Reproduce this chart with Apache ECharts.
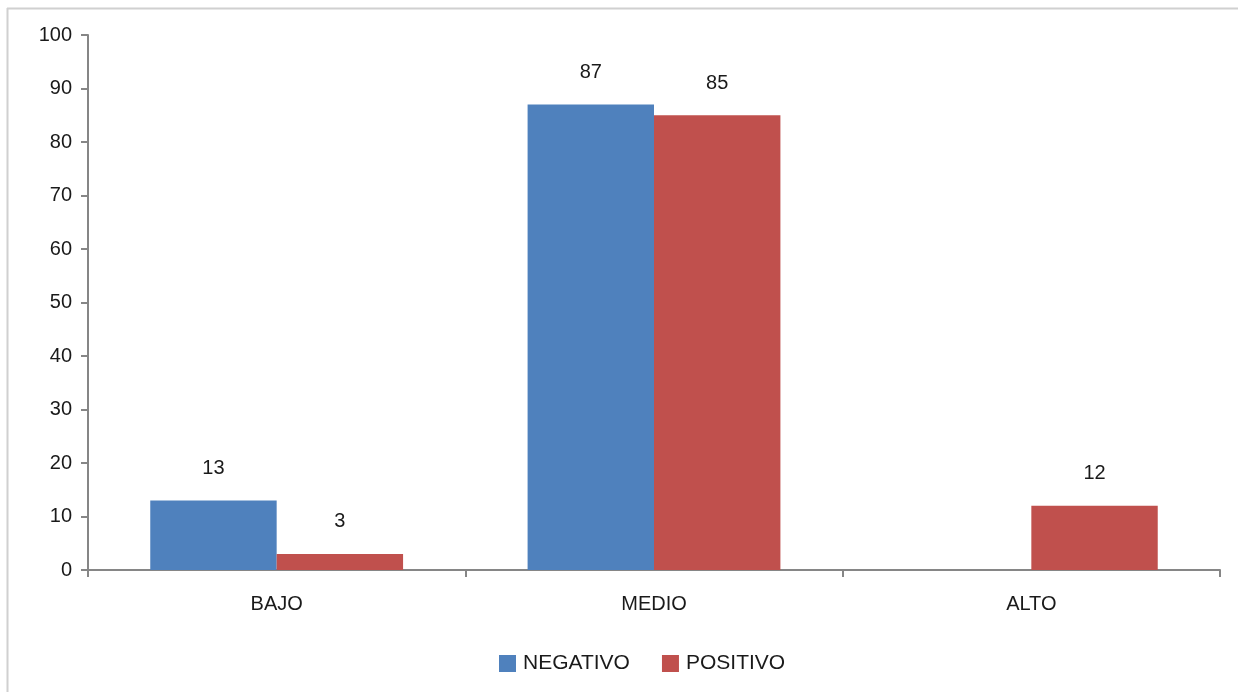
<!DOCTYPE html>
<html><head><meta charset="utf-8">
<script src="https://cdn.jsdelivr.net/npm/echarts@6/dist/echarts.min.js"></script>
<style>html,body{margin:0;padding:0;background:#fff}#c{width:1238px;height:692px}</style>
</head><body><div id="c"></div>
<script>
const categories = ['BAJO', 'MEDIO', 'ALTO'];
const negativo = [13, 87, 0];
const positivo = [3, 85, 12];
const yTicks = { min: 0, max: 100, interval: 10 };

const chart = echarts.init(document.getElementById('c'));
const axisColor = '#868686';
const font = 'Liberation Sans, Arial, sans-serif';
const lbl = {
  show: true, position: 'top', distance: 22, color: '#1a1a1a', fontSize: 20, fontFamily: font,
  formatter: p => p.value === 0 ? '' : p.value
};
chart.setOption({
  animation: false,
  backgroundColor: '#fff',
  graphic: [
    { type: 'line', shape: { x1: 7.5, y1: 8, x2: 7.5, y2: 692 }, style: { stroke: '#d0d0d0', lineWidth: 2 } },
    { type: 'line', shape: { x1: 7, y1: 8.5, x2: 1238, y2: 8.5 }, style: { stroke: '#d0d0d0', lineWidth: 2 } }
  ],
  grid: { left: 88, right: 18, top: 35, bottom: 122, containLabel: false },
  legend: {
    left: 494, top: 648, itemWidth: 17, itemHeight: 17, itemGap: 32,
    icon: 'rect',
    textStyle: { fontSize: 21, fontFamily: font, color: '#1a1a1a', padding: [0, 0, 0, 2] },
    data: ['NEGATIVO', 'POSITIVO']
  },
  xAxis: {
    type: 'category', data: categories,
    axisLine: { lineStyle: { color: axisColor, width: 2 } },
    axisTick: { show: true, length: 7, lineStyle: { color: axisColor, width: 2 } },
    axisLabel: { fontSize: 20, fontFamily: font, color: '#1a1a1a', margin: 24 }
  },
  yAxis: {
    type: 'value', min: yTicks.min, max: yTicks.max, interval: yTicks.interval,
    splitLine: { show: false },
    axisLine: { show: true, lineStyle: { color: axisColor, width: 2 } },
    axisTick: { show: true, length: 7, lineStyle: { color: axisColor, width: 2 } },
    axisLabel: { fontSize: 20, fontFamily: font, color: '#1a1a1a', margin: 16 }
  },
  series: [
    { name: 'NEGATIVO', type: 'bar', data: negativo, barGap: '0%', barCategoryGap: '33%',
      itemStyle: { color: '#4F81BD' }, label: lbl },
    { name: 'POSITIVO', type: 'bar', data: positivo,
      itemStyle: { color: '#C0504D' }, label: lbl }
  ]
});
</script></body></html>
